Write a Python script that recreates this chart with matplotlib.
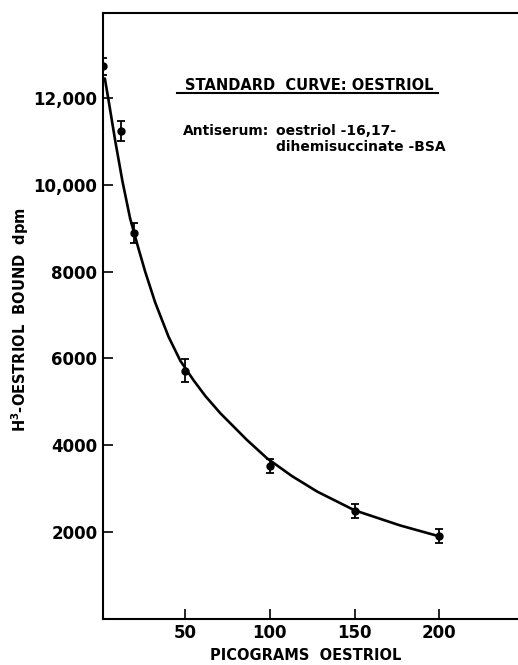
import numpy as np
import matplotlib
matplotlib.use("Agg")
import matplotlib.pyplot as plt

# Measured points (picograms oestriol vs H3-oestriol bound, dpm)
dose = [1.5, 12, 20, 50, 100, 150, 200]
bound = [12730, 11240, 8890, 5720, 3520, 2480, 1900]
err = [195, 220, 225, 258, 160, 160, 165]

# Fitted standard curve
curve_x = [2.6, 4.7, 8.7, 13, 17.5, 22.1, 26.4, 32.3, 40.2, 47.1, 54.9,
           62, 70.7, 86.5, 98.3, 113, 128, 150, 177, 200]
curve_y = [12450, 11970, 11020, 10080, 9230, 8580, 8000, 7290, 6500, 5950,
           5500, 5130, 4740, 4120, 3700, 3290, 2930, 2500, 2150, 1900]

xticks = [50, 100, 150, 200]
yticks = [2000, 4000, 6000, 8000, 10000, 12000]
ytick_labels = ["2000", "4000", "6000", "8000", "10,000", "12,000"]

plt.rcParams["font.family"] = ["DejaVu Sans"]
plt.rcParams["font.weight"] = "bold"

fig = plt.figure(figsize=(5.18, 6.65), dpi=100)
ax = fig.add_axes([0.1988, 0.0695, 0.8012, 0.911])

ax.plot(curve_x, curve_y, color="black", lw=1.9, solid_capstyle="round",
        solid_joinstyle="round")
ax.errorbar(dose, bound, yerr=err, fmt="o", color="black", ms=5,
            capsize=3, elinewidth=1.3, capthick=1.3, zorder=3)

ax.set_xlim(1.5, 246.5)
ax.set_ylim(0, 13960)
ax.spines["right"].set_visible(False)
for s in ["left", "bottom", "top"]:
    ax.spines[s].set_linewidth(1.5)

ax.set_xticks(xticks)
ax.set_xticklabels([str(v) for v in xticks])
ax.set_yticks(yticks)
ax.set_yticklabels(ytick_labels)
ax.tick_params(axis="both", direction="in", length=7, width=1.2,
               labelsize=12, pad=4)
for lab in ax.get_xticklabels() + ax.get_yticklabels():
    lab.set_fontweight("bold")

ax.set_xlabel("PICOGRAMS  OESTRIOL", fontsize=10.5, fontweight="bold")
ax.xaxis.set_label_coords(0.489, -0.06)
ax.xaxis.label.set_va("center")
ax.set_ylabel("H$^{\\mathbf{3}}$-OESTRIOL  BOUND  dpm", fontsize=10.5,
              fontweight="bold")
ax.yaxis.set_label_coords(-0.2, 0.493)
ax.yaxis.label.set_va("center")

fig.text(0.3571, 0.872, "STANDARD  CURVE: OESTRIOL", fontsize=10.5,
         fontweight="bold", va="center", ha="left")
fig.add_artist(plt.Line2D([0.3417, 0.8456], [0.860, 0.860], color="black", lw=1.5))
fig.text(0.3533, 0.803, "Antiserum:", fontsize=10, fontweight="bold", va="center")
fig.text(0.5328, 0.803, "oestriol -16,17-", fontsize=10, fontweight="bold", va="center")
fig.text(0.5328, 0.779, "dihemisuccinate -BSA", fontsize=10, fontweight="bold", va="center")

fig.savefig("out.png", dpi=100)
